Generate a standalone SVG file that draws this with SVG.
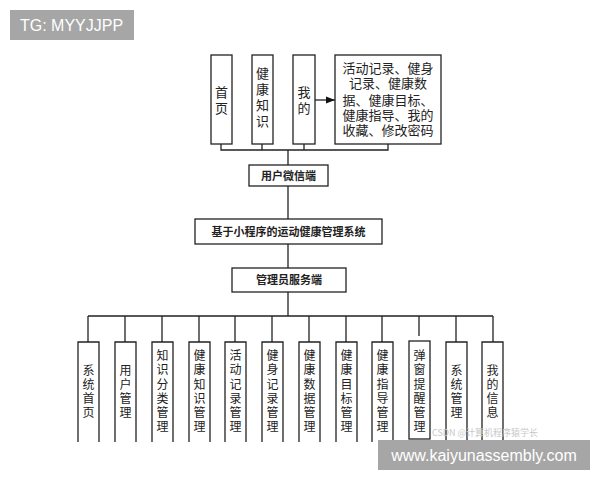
<svg xmlns="http://www.w3.org/2000/svg" width="600" height="480" viewBox="0 0 600 480">
<defs>
<marker id="ah" viewBox="0 0 10 10" refX="10" refY="5" markerWidth="7" markerHeight="7" orient="auto"><path d="M0,1 L10,5 L0,9 z" fill="#111"/></marker>
<style>
.b{fill:#fff;stroke:#222;stroke-width:1.3}
.t{font-family:"Noto Sans CJK SC",sans-serif;font-size:13px;fill:#222;text-anchor:middle}
#bottom text{font-size:12px}
.s{font-family:"Noto Sans CJK SC",sans-serif;font-size:11px;font-weight:bold;fill:#222;text-anchor:middle}
.l{fill:none;stroke:#222;stroke-width:1.3}
</style>
</defs>
<rect width="600" height="480" fill="#fff"/>
<g id="connectors">
<path class="l" d="M221,144V150H388V144M262,144V150M304,144V150M288,150V165M288,186V219M288,244V268M288,292V316M88,316H493M88,316V342M125,316V342M162,316V342M199,316V342M235,316V342M272,316V342M309,316V342M346,316V342M382,316V342M419,316V336M456,316V342M493,316V342"/>
<path class="l" d="M315,100H335" marker-end="url(#ah)"/>
</g>
<g id="n-home"><rect class="b" x="211" y="55" width="21" height="89"/><text class="t" x="221.5" y="97">首</text><text class="t" x="221.5" y="113">页</text></g>
<g id="n-know"><rect class="b" x="252" y="55" width="21" height="89"/><text class="t" x="262.5" y="78">健</text><text class="t" x="262.5" y="94">康</text><text class="t" x="262.5" y="110">知</text><text class="t" x="262.5" y="126">识</text></g>
<g id="n-mine"><rect class="b" x="293" y="55" width="22" height="89"/><text class="t" x="304" y="97">我</text><text class="t" x="304" y="113">的</text></g>
<g id="n-detail"><rect class="b" x="335" y="55" width="106" height="89"/>
<text class="t" x="388" y="73">活动记录、健身</text><text class="t" x="388" y="88">记录、健康数</text><text class="t" x="388" y="105">据、健康目标、</text><text class="t" x="388" y="120">健康指导、我的</text><text class="t" x="388" y="135">收藏、修改密码</text></g>
<g id="n-wx"><rect class="b" x="249" y="165" width="79" height="21"/><text class="s" x="288.5" y="179.5">用户微信端</text></g>
<g id="n-sys"><rect class="b" x="195" y="219" width="187" height="25"/><text class="s" x="288.5" y="235.5">基于小程序的运动健康管理系统</text></g>
<g id="n-admin"><rect class="b" x="232" y="268" width="114" height="24"/><text class="s" x="289" y="284">管理员服务端</text></g>
<g id="bottom" class="t">
<g id="a1"><path class="b" d="M78,442V342H99V442"/><text x="88.5" y="375">系</text><text x="88.5" y="389">统</text><text x="88.5" y="403">首</text><text x="88.5" y="417">页</text></g>
<g id="a2"><path class="b" d="M115,442V342H136V442"/><text x="125.5" y="375">用</text><text x="125.5" y="389">户</text><text x="125.5" y="403">管</text><text x="125.5" y="417">理</text></g>
<g id="a3"><path class="b" d="M152,442V342H173V442"/><text x="162.5" y="360">知</text><text x="162.5" y="374">识</text><text x="162.5" y="389">分</text><text x="162.5" y="403">类</text><text x="162.5" y="417">管</text><text x="162.5" y="431">理</text></g>
<g id="a4"><path class="b" d="M189,442V342H210V442"/><text x="199.5" y="360">健</text><text x="199.5" y="374">康</text><text x="199.5" y="389">知</text><text x="199.5" y="403">识</text><text x="199.5" y="417">管</text><text x="199.5" y="431">理</text></g>
<g id="a5"><path class="b" d="M225,442V342H246V442"/><text x="235.5" y="360">活</text><text x="235.5" y="374">动</text><text x="235.5" y="389">记</text><text x="235.5" y="403">录</text><text x="235.5" y="417">管</text><text x="235.5" y="431">理</text></g>
<g id="a6"><path class="b" d="M262,442V342H283V442"/><text x="272.5" y="360">健</text><text x="272.5" y="374">身</text><text x="272.5" y="389">记</text><text x="272.5" y="403">录</text><text x="272.5" y="417">管</text><text x="272.5" y="431">理</text></g>
<g id="a7"><path class="b" d="M299,442V342H320V442"/><text x="309.5" y="360">健</text><text x="309.5" y="374">康</text><text x="309.5" y="389">数</text><text x="309.5" y="403">据</text><text x="309.5" y="417">管</text><text x="309.5" y="431">理</text></g>
<g id="a8"><path class="b" d="M336,442V342H357V442"/><text x="346.5" y="360">健</text><text x="346.5" y="374">康</text><text x="346.5" y="389">目</text><text x="346.5" y="403">标</text><text x="346.5" y="417">管</text><text x="346.5" y="431">理</text></g>
<g id="a9"><path class="b" d="M372,442V342H393V442"/><text x="382.5" y="360">健</text><text x="382.5" y="374">康</text><text x="382.5" y="389">指</text><text x="382.5" y="403">导</text><text x="382.5" y="417">管</text><text x="382.5" y="431">理</text></g>
<g id="a10"><rect class="b" x="409" y="341" width="21" height="98"/><text x="419.5" y="360">弹</text><text x="419.5" y="374">窗</text><text x="419.5" y="389">提</text><text x="419.5" y="403">醒</text><text x="419.5" y="417">管</text><text x="419.5" y="431">理</text></g>
<g id="a11"><path class="b" d="M446,442V342H467V442"/><text x="456.5" y="375">系</text><text x="456.5" y="389">统</text><text x="456.5" y="403">管</text><text x="456.5" y="417">理</text></g>
<g id="a12"><path class="b" d="M482,442V342H503V442"/><text x="492.5" y="375">我</text><text x="492.5" y="389">的</text><text x="492.5" y="403">信</text><text x="492.5" y="417">息</text></g>
</g>
<text x="432" y="436" font-family="'Noto Sans CJK SC',sans-serif" font-size="9" fill="#c8c8c8">CSDN @计算机程序猿学长</text>
<rect x="10" y="10" width="124" height="30" fill="#a6a6a6"/>
<text x="20" y="31" font-family="'Liberation Sans',sans-serif" font-size="16" fill="#fff">TG: MYYJJPP</text>
<rect x="378" y="440" width="212" height="30" fill="#a6a6a6"/>
<text x="484" y="461" text-anchor="middle" font-family="'Liberation Sans',sans-serif" font-size="16" fill="#fff">www.kaiyunassembly.com</text>
</svg>
